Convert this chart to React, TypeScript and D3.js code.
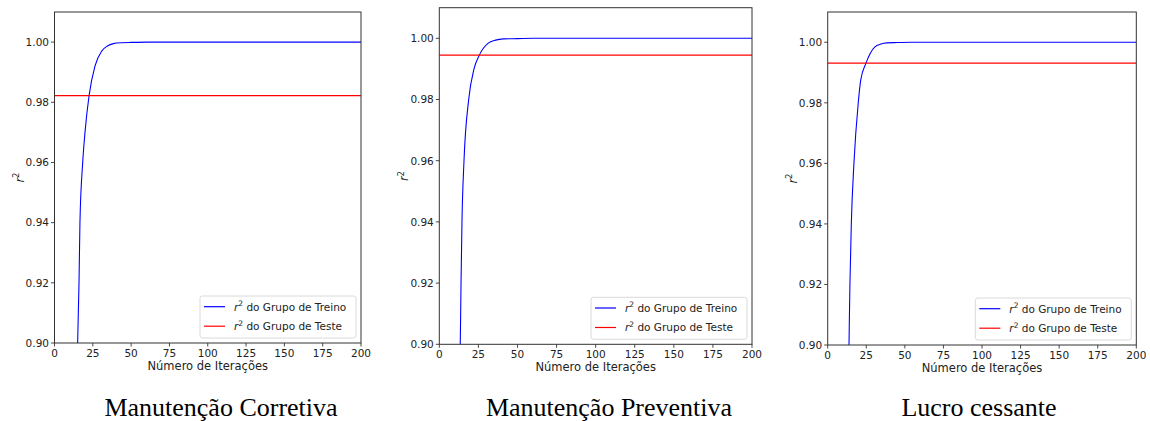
import React from "react";
import * as d3 from "d3";

// ---- data ----
const titles = ["Manutenção Corretiva", "Manutenção Preventiva", "Lucro cessante"];
const testR2 = [0.9822, 0.9945, 0.9931];

const trainIter1 = [14.5, 15.1, 16.0, 16.6, 18.4, 19.9, 22.5, 26.4, 30.8, 34.5, 38.4, 44, 50, 60, 200];
const trainR2_1 = [0.88, 0.9, 0.92, 0.94, 0.96, 0.97, 0.982, 0.992, 0.997, 0.9987, 0.9995, 0.9998, 0.9999, 1.0, 1.0];

const trainIter2 = [12.8, 13.4, 13.9, 14.5, 15.8, 18.8, 22.2, 25.6, 31.3, 36, 40.9, 50, 60, 200];
const trainR2_2 = [0.88, 0.9, 0.92, 0.94, 0.96, 0.98, 0.99, 0.9945, 0.9984, 0.9994, 0.9998, 0.9999, 1.0, 1.0];

const trainIter3 = [13.2, 13.8, 14.4, 15.3, 17.0, 19.8, 21.4, 24.8, 30.6, 34.5, 38.2, 45, 55, 200];
const trainR2_3 = [0.88, 0.9, 0.92, 0.94, 0.96, 0.98, 0.9875, 0.9931, 0.9985, 0.9994, 0.9998, 0.9999, 1.0, 1.0];

const trainIters = [trainIter1, trainIter2, trainIter3];
const trainR2s = [trainR2_1, trainR2_2, trainR2_3];

const xTicks = [0, 25, 50, 75, 100, 125, 150, 175, 200];
const yTicks = [0.9, 0.92, 0.94, 0.96, 0.98, 1.0];
const xDomain = [0, 200];
const yDomain = [0.9, 1.01];

const legendLabels = ["do Grupo de Treino", "do Grupo de Teste"];
const xLabel = "Número de Iterações";

// ---- layout ----
const boxes = [
  { left: 54.5, right: 361, top: 12, bottom: 343, cap: 221 },
  { left: 439.3, right: 752, top: 7.7, bottom: 344.3, cap: 609 },
  { left: 827.7, right: 1136.3, top: 12, bottom: 345, cap: 979 },
];

const FONT = "DejaVu Sans, sans-serif";
const TXT = "#222";
const SPINE = "#333";

function Panel({ i }: { i: number }) {
  const b = boxes[i];
  const x = d3.scaleLinear().domain(xDomain).range([b.left, b.right]);
  const y = d3.scaleLinear().domain(yDomain).range([b.bottom, b.top]);
  const pts: [number, number][] = trainIters[i].map((v, k) => [v, trainR2s[i][k]]);
  const line = d3
    .line<[number, number]>()
    .x((d) => x(d[0]))
    .y((d) => y(d[1]))
    .curve(d3.curveMonotoneX);
  const clipId = `clip${i}`;
  const lgW = 156;
  const lgH = 42;
  const lgX = b.right - 5 - lgW;
  const lgY = b.bottom - 5 - lgH;
  const colors = ["#0000ff", "#ff0000"];
  return (
    <g>
      <defs>
        <clipPath id={clipId}>
          <rect x={b.left} y={b.top} width={b.right - b.left} height={b.bottom - b.top} />
        </clipPath>
      </defs>
      <g clipPath={`url(#${clipId})`}>
        <path d={line(pts) || ""} fill="none" stroke="#0000ff" strokeWidth={1.1} />
        <line x1={b.left} x2={b.right} y1={y(testR2[i])} y2={y(testR2[i])} stroke="#ff0000" strokeWidth={1.2} />
      </g>
      <rect x={b.left} y={b.top} width={b.right - b.left} height={b.bottom - b.top} fill="none" stroke={SPINE} strokeWidth={1} />
      {xTicks.map((t) => (
        <g key={"x" + t}>
          <line x1={x(t)} x2={x(t)} y1={b.bottom} y2={b.bottom + 3.5} stroke={SPINE} strokeWidth={0.9} />
          <text x={x(t)} y={b.bottom + 14} textAnchor="middle" fontFamily={FONT} fontSize={10.5} fill={TXT}>
            {t}
          </text>
        </g>
      ))}
      {yTicks.map((t) => (
        <g key={"y" + t}>
          <line x1={b.left - 3.5} x2={b.left} y1={y(t)} y2={y(t)} stroke={SPINE} strokeWidth={0.9} />
          <text x={b.left - 5.5} y={y(t) + 3.8} textAnchor="end" fontFamily={FONT} fontSize={10.5} fill={TXT}>
            {d3.format(".2f")(t)}
          </text>
        </g>
      ))}
      <text x={(b.left + b.right) / 2} y={b.bottom + 27} textAnchor="middle" fontFamily={FONT} fontSize={11.5} fill={TXT}>
        {xLabel}
      </text>
      <text
        transform={`translate(${b.left - 31},${(b.top + b.bottom) / 2}) rotate(-90)`}
        textAnchor="middle"
        fontFamily={FONT}
        fontSize={11.5}
        fill={TXT}
      >
        <tspan fontStyle="italic">r</tspan>
        <tspan fontSize={8} dy={-4.5}>2</tspan>
      </text>
      <rect x={lgX} y={lgY} width={lgW} height={lgH} rx={2.5} fill="#fff" fillOpacity={0.8} stroke="#d0d0d0" strokeWidth={0.8} />
      {legendLabels.map((lab, k) => {
        const ly = lgY + 10.7 + k * 19.5;
        return (
          <g key={lab}>
            <line x1={lgX + 4} x2={lgX + 25} y1={ly} y2={ly} stroke={colors[k]} strokeWidth={1.2} />
            <text x={lgX + 34} y={ly + 3.8} fontFamily={FONT} fontSize={10.5} fill={TXT}>
              <tspan fontStyle="italic">r</tspan>
              <tspan fontSize={7.5} dy={-4.5}>2</tspan>
              <tspan dy={4.5}>{" " + lab}</tspan>
            </text>
          </g>
        );
      })}
      <text x={b.cap} y={416} textAnchor="middle" fontFamily="Liberation Serif, Times New Roman, serif" fontSize={26} fill="#000">
        {titles[i]}
      </text>
    </g>
  );
}

export default function App() {
  return (
    <svg
      width={1150}
      height={421}
      viewBox="0 0 1150 421"
      style={{ position: "absolute", left: 0, top: 0, background: "#fff" }}
    >
      <rect width={1150} height={421} fill="#fff" />
      {boxes.map((_, i) => (
        <Panel key={i} i={i} />
      ))}
    </svg>
  );
}
